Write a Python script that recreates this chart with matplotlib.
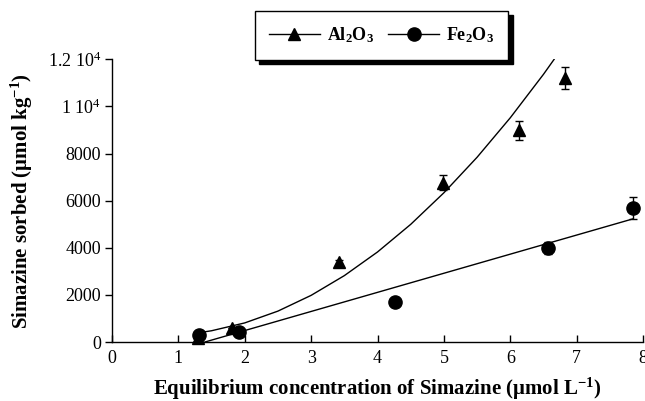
import matplotlib
matplotlib.use("Agg")
import matplotlib.pyplot as plt
from matplotlib.lines import Line2D

plt.rcParams['font.family'] = ['Liberation Serif', 'DejaVu Serif']
plt.rcParams['mathtext.fontset'] = 'custom'
plt.rcParams['mathtext.rm'] = 'Liberation Serif'
plt.rcParams['mathtext.bf'] = 'Liberation Serif:bold'
plt.rcParams['mathtext.it'] = 'Liberation Serif:italic'

# Al2O3 (triangles)
al_x = [1.30, 1.81, 3.42, 4.99, 6.13, 6.82]
al_y = [150, 580, 3410, 6770, 8980, 11210]
al_err = [0, 0, 80, 330, 400, 480]

# Fe2O3 (circles)
fe_x = [1.31, 1.91, 4.26, 6.57, 7.85]
fe_y = [300, 410, 1710, 3980, 5690]
fe_err = [0, 0, 0, 250, 450]

# fitted curves
al_fit_x = [1.30, 1.5, 2.0, 2.5, 3.0, 3.5, 4.0, 4.5, 5.0, 5.5, 6.0, 6.5, 6.66]
al_fit_y = [391, 478, 811, 1312, 1981, 2818, 3822, 4995, 6336, 7844, 9520, 11365, 12000]
fe_fit_x = [1.40, 7.85]
fe_fit_y = [0, 5230]

xticks = [0, 1, 2, 3, 4, 5, 6, 7, 8]
yticks = [0, 2000, 4000, 6000, 8000, 10000, 12000]
ytick_labels = ['0', '2000', '4000', '6000', '8000', r'1 10$^4$', r'1.2 10$^4$']

fig = plt.figure(figsize=(6.45, 4.01), dpi=100)
ax = fig.add_axes([0.1736, 0.1471, 0.8234, 0.7049])

ax.plot(al_fit_x, al_fit_y, color='black', lw=1.0, zorder=2)
ax.plot(fe_fit_x, fe_fit_y, color='black', lw=1.0, zorder=2)

ax.errorbar(al_x, al_y, yerr=al_err, fmt='^', color='black', ms=8,
            ecolor='black', elinewidth=1.0, capsize=3, capthick=1.0, zorder=3,
            clip_on=False)
ax.errorbar(fe_x, fe_y, yerr=fe_err, fmt='o', color='black', ms=9.5,
            ecolor='black', elinewidth=1.0, capsize=3, capthick=1.0, zorder=3,
            clip_on=False)

ax.set_xlim(0, 8)
ax.set_ylim(0, 12000)
ax.set_xticks(xticks)
ax.set_xticklabels([str(t) for t in xticks], fontsize=13)
ax.set_yticks(yticks)
ax.set_yticklabels(ytick_labels, fontsize=13)
ax.tick_params(axis='x', direction='in', length=5, width=1, pad=6)
ax.tick_params(axis='y', direction='out', length=5, width=1, pad=3)

for s in ['top', 'right']:
    ax.spines[s].set_visible(False)
for s in ['left', 'bottom']:
    ax.spines[s].set_linewidth(1.0)

ax.set_xlabel('Equilibrium concentration of Simazine (μmol L$^{\\mathbf{-1}}$)',
              fontsize=15, fontweight='bold', labelpad=6)
ax.set_ylabel('Simazine sorbed (μmol kg$^{\\mathbf{-1}}$)',
              fontsize=15, fontweight='bold', labelpad=9)

handles = [Line2D([], [], color='black', lw=1.0, marker='^', ms=8),
           Line2D([], [], color='black', lw=1.0, marker='o', ms=9.5)]
labels = [r'Al$_\mathbf{2}$O$_\mathbf{3}$', r'Fe$_\mathbf{2}$O$_\mathbf{3}$']
leg = fig.legend(handles, labels, loc='center', bbox_to_anchor=(0.5915, 0.912),
                 ncol=2, frameon=True, fancybox=False,
                 shadow={'color': 'black', 'alpha': 1, 'ox': 3, 'oy': -3},
                 edgecolor='black', prop={'weight': 'bold', 'size': 13},
                 handlelength=2.8, columnspacing=0.8, handletextpad=0.4,
                 borderpad=0.8, borderaxespad=0.3)
leg.get_frame().set_linewidth(1.0)

fig.savefig('out.png', dpi=100)
